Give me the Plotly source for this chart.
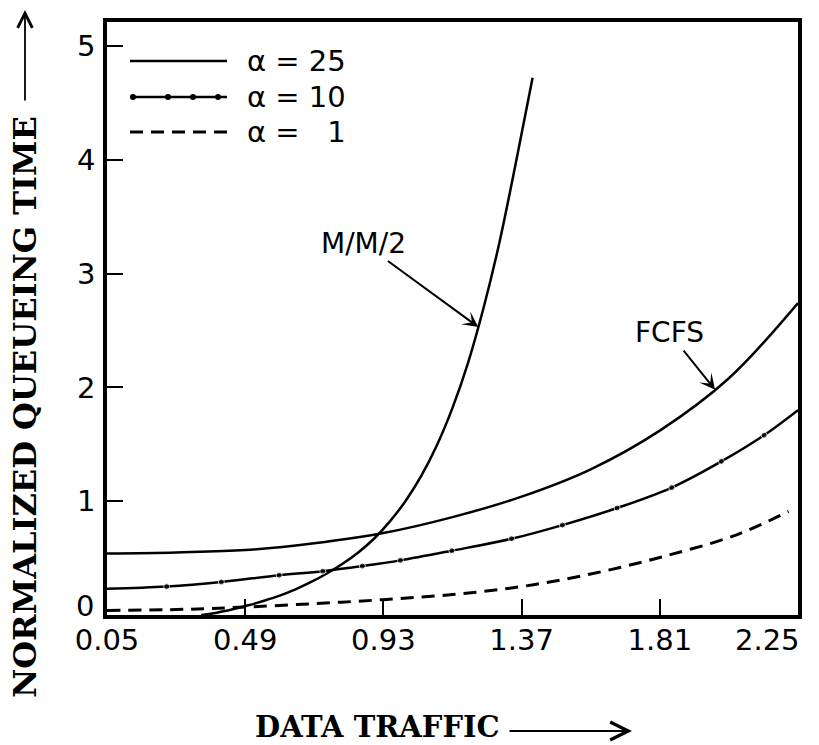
import plotly.graph_objects as go

# ---- data ----
x_ticks = [0.05, 0.49, 0.93, 1.37, 1.81, 2.25]
x_tick_labels = ["0.05", "0.49", "0.93", "1.37", "1.81", "2.25"]
y_ticks = [0, 1, 2, 3, 4, 5]
y_tick_labels = ["0", "1", "2", "3", "4", "5"]

mm2_x = [0.35, 0.40, 0.45, 0.50, 0.55, 0.60, 0.65, 0.70, 0.75, 0.80, 0.85, 0.90, 0.95,
         1.00, 1.05, 1.10, 1.15, 1.20, 1.25, 1.30, 1.35, 1.405]
mm2_y = [0.0, 0.02, 0.05, 0.085, 0.125, 0.17, 0.225, 0.29, 0.365, 0.45, 0.55, 0.67, 0.82,
         1.0, 1.22, 1.49, 1.82, 2.22, 2.71, 3.28, 3.95, 4.72]

fcfs_x = [0.05, 0.27, 0.49, 0.71, 0.93, 1.15, 1.37, 1.59, 1.81, 2.03, 2.25]
fcfs_y = [0.54, 0.55, 0.57, 0.63, 0.72, 0.86, 1.04, 1.28, 1.62, 2.08, 2.74]

a10_x = [0.05, 0.24, 0.414, 0.598, 0.737, 0.863, 0.984, 1.148, 1.338, 1.50, 1.674, 1.848, 2.006, 2.142, 2.25]
a10_y = [0.23, 0.25, 0.29, 0.35, 0.385, 0.43, 0.48, 0.565, 0.67, 0.79, 0.94, 1.12, 1.35, 1.58, 1.80]

a1_x = [0.05, 0.30, 0.49, 0.71, 0.93, 1.15, 1.37, 1.59, 1.816, 2.05, 2.22]
a1_y = [0.04, 0.05, 0.07, 0.10, 0.135, 0.18, 0.25, 0.36, 0.51, 0.70, 0.91]

legend_labels = ["α = 25", "α = 10", "α =   1"]

INK = "black"
TICKFONT = dict(family="DejaVu Sans", size=29, color=INK)

fig = go.Figure()
fig.add_trace(go.Scatter(x=mm2_x, y=mm2_y, mode="lines", line=dict(color=INK, width=2.5, shape="spline"),
                         showlegend=False))
fig.add_trace(go.Scatter(x=fcfs_x, y=fcfs_y, mode="lines", line=dict(color=INK, width=2.5, shape="spline"),
                         showlegend=False))
msize = [0] + [6] * (len(a10_x) - 2) + [0]
fig.add_trace(go.Scatter(x=a10_x, y=a10_y, mode="lines+markers", line=dict(color=INK, width=2.5, shape="spline"),
                         marker=dict(color=INK, size=msize), showlegend=False))
fig.add_trace(go.Scatter(x=a1_x, y=a1_y, mode="lines", line=dict(color=INK, width=3, shape="spline", dash="13px,8px"),
                         showlegend=False))

L, R, T, B = 107, 21, 22, 130
W, H = 819, 745
pw, ph = W - L - R, H - T - B

def px2paper(px, py):
    return (px - L) / pw, (H - B - py) / ph

axis_common = dict(showline=True, linecolor=INK, linewidth=3.5, mirror=True, showgrid=False, zeroline=False,
                   ticks="inside", ticklen=16, tickwidth=2, tickcolor=INK, tickfont=TICKFONT,
                   automargin=False)

# first y label and last x label are drawn as annotations (offset like the reference)
fig.update_xaxes(range=[0.05, 2.25], tickmode="array", tickvals=x_ticks,
                 ticktext=x_tick_labels[:-1] + [""],
                 ticklabelstandoff=-4, **axis_common)
fig.update_yaxes(range=[0, 5.21], tickmode="array", tickvals=y_ticks, ticktext=[""] + y_tick_labels[1:],
                 ticklabelstandoff=2, **axis_common)

shapes = []
annotations = []

lx, ly = px2paper(96, 606)
annotations.append(dict(xref="paper", yref="paper", x=lx, y=ly, xanchor="right", yanchor="middle",
                        text=y_tick_labels[0], showarrow=False, font=TICKFONT))
lx, ly = px2paper(802, 640)
annotations.append(dict(xref="paper", yref="paper", x=lx, y=ly, xanchor="right", yanchor="middle",
                        text=x_tick_labels[-1], showarrow=False, font=TICKFONT))

# legend samples
lx0, lx1 = 130, 227
rows = [61, 97, 132]
for i, (py, dash) in enumerate(zip(rows, ["solid", "solid", "13px,8px"])):
    x0, y0 = px2paper(lx0, py)
    x1, _ = px2paper(lx1, py)
    shapes.append(dict(type="line", xref="paper", yref="paper", x0=x0, x1=x1, y0=y0, y1=y0,
                       line=dict(color=INK, width=3 if i == 2 else 2.5, dash=dash)))
    tx, ty = px2paper(245, py)
    annotations.append(dict(xref="paper", yref="paper", x=tx, y=ty, xanchor="left", yanchor="middle",
                            text=legend_labels[i], showarrow=False, font=TICKFONT))
for dpx in [133, 168, 193, 218]:
    dx, dy = px2paper(dpx, rows[1])
    shapes.append(dict(type="circle", xref="paper", yref="paper", xsizemode="pixel", ysizemode="pixel",
                       xanchor=dx, yanchor=dy, x0=-3, x1=3, y0=-3, y1=3, fillcolor=INK, line=dict(width=0)))

# curve labels with arrows
annotations.append(dict(x=1.232, y=2.53, xref="x", yref="y", text="M/M/2", showarrow=True,
                        ax=-115, ay=-84, arrowhead=3, arrowsize=1.3, arrowwidth=2, arrowcolor=INK,
                        font=dict(family="DejaVu Sans", size=28, color=INK)))
annotations.append(dict(x=1.986, y=1.98, xref="x", yref="y", text="FCFS", showarrow=True,
                        ax=-46, ay=-57, arrowhead=3, arrowsize=1.3, arrowwidth=2, arrowcolor=INK,
                        font=dict(family="DejaVu Sans", size=28, color=INK)))

# axis titles
tx, ty = px2paper(25, 407)
annotations.append(dict(xref="paper", yref="paper", x=tx, y=ty, text="<b>NORMALIZED QUEUEING TIME</b>",
                        textangle=-90, showarrow=False, xanchor="center", yanchor="middle",
                        font=dict(family="DejaVu Serif", size=32, color=INK)))
ax_, ay_ = px2paper(25, 10)
annotations.append(dict(xref="paper", yref="paper", x=ax_, y=ay_, text="", showarrow=True,
                        ax=0, ay=92, arrowhead=5, arrowsize=1.6, arrowwidth=1.8, arrowcolor=INK))
tx, ty = px2paper(253, 727)
annotations.append(dict(xref="paper", yref="paper", x=tx, y=ty, text="<b>DATA TRAFFIC</b>",
                        showarrow=False, xanchor="left", yanchor="middle",
                        font=dict(family="DejaVu Serif", size=29, color=INK)))
ax_, ay_ = px2paper(632, 731)
annotations.append(dict(xref="paper", yref="paper", x=ax_, y=ay_, text="", showarrow=True,
                        ax=-124, ay=0, arrowhead=5, arrowsize=1.6, arrowwidth=2.2, arrowcolor=INK))

fig.update_layout(width=W, height=H, margin=dict(l=L, r=R, t=T, b=B),
                  paper_bgcolor="white", plot_bgcolor="white",
                  shapes=shapes, annotations=annotations, showlegend=False)

fig.write_html("out.html", config={"displayModeBar": False},
               post_script="document.body.style.margin='0';document.body.style.overflow='hidden';")
